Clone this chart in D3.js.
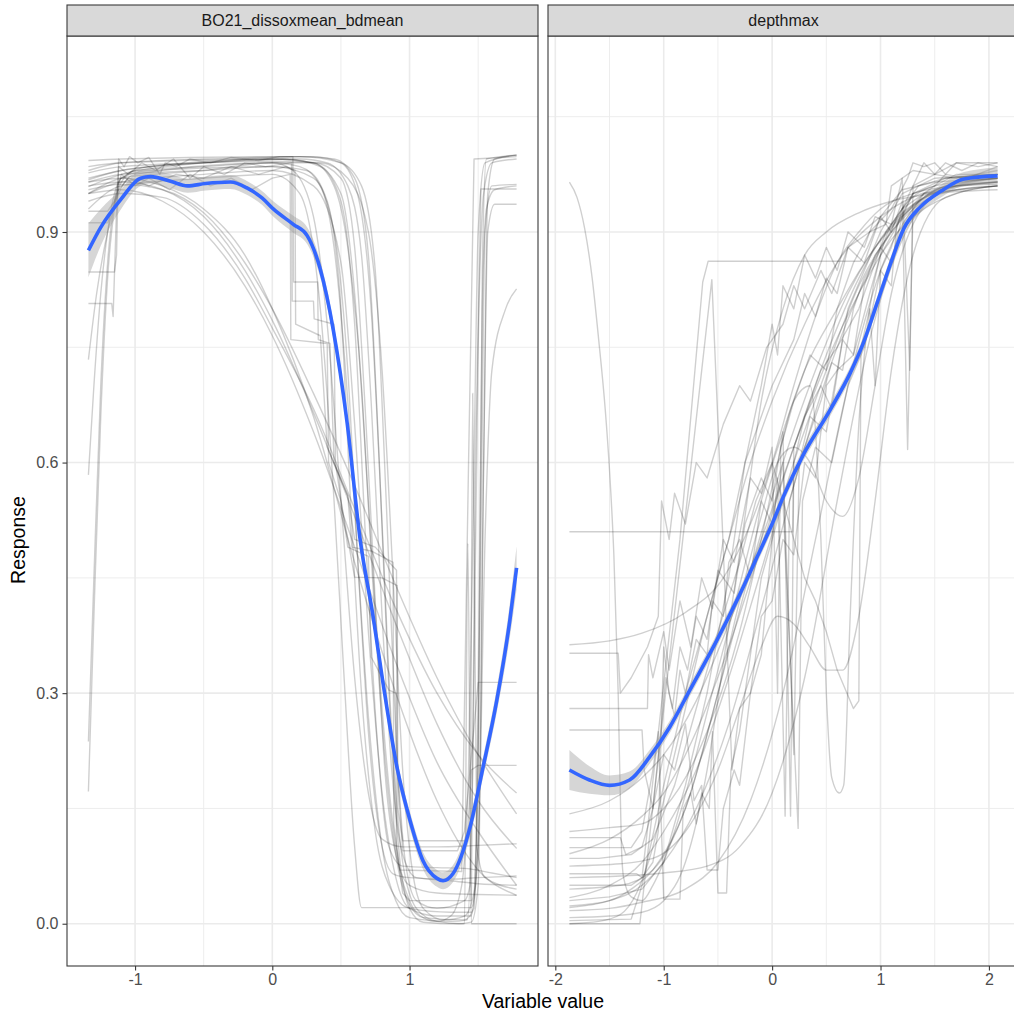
<!DOCTYPE html>
<html>
<head>
<meta charset="utf-8">
<script src="https://cdn.jsdelivr.net/npm/d3@7"></script>
<style>
  body { margin: 0; background: #ffffff; }
  svg text { font-family: "Liberation Sans", Arial, Helvetica, sans-serif; }
</style>
</head>
<body>
<svg id="chart" width="1014" height="1018"></svg>
<script>
// ---------------------------------------------------------------
// Response curves of the individual model runs, per predictor.
// Each run is a list of [variable value, response] pairs.
// ---------------------------------------------------------------
const panelNames = ["BO21_dissoxmean_bdmean", "depthmax"];
const oxygenTicksX = [-1, 0, 1];
const depthTicksX = [-2, -1, 0, 1, 2];
const responseTicks = [0, 0.3, 0.6, 0.9];
const oxygenRange = [-1.34, 1.78];
const depthRange = [-1.87, 2.08];
const responseRange = [0, 1.1];

// dissolved oxygen: smooth runs
const oxygenSmoothRuns = [
  [[-1.34,0.172],[-1.3,0.4],[-1.25,0.66],[-1.2,0.84],[-1.15,0.93],[-1.1,0.965],[-1.0,0.98],[-0.5,0.985],[0,0.99],[0.2,0.985],[0.35,0.96],[0.45,0.88],[0.55,0.68],[0.62,0.48],[0.7,0.27],[0.8,0.1],[0.9,0.03],[1.0,0.008],[1.3,0.003],[1.42,0.005],[1.46,0.2],[1.5,0.75],[1.54,0.95],[1.6,0.99],[1.78,0.995]],
  [[-1.34,0.237],[-1.3,0.45],[-1.25,0.7],[-1.2,0.86],[-1.15,0.94],[-1.1,0.97],[-0.9,0.985],[0,0.995],[0.3,0.99],[0.45,0.96],[0.55,0.88],[0.65,0.7],[0.72,0.48],[0.8,0.26],[0.9,0.09],[1.0,0.025],[1.1,0.008],[1.4,0.005],[1.47,0.02],[1.5,0.3],[1.53,0.8],[1.56,0.93],[1.62,0.955],[1.78,0.96]],
  [[-1.34,0.584],[-1.3,0.7],[-1.25,0.82],[-1.2,0.9],[-1.15,0.95],[-1.1,0.97],[-0.9,0.98],[0,0.985],[0.25,0.98],[0.4,0.94],[0.5,0.8],[0.57,0.55],[0.65,0.3],[0.75,0.12],[0.85,0.05],[1.0,0.02],[1.3,0.015],[1.45,0.015],[1.5,0.1],[1.55,0.5],[1.6,0.72],[1.7,0.8],[1.78,0.826]],
  [[-1.34,0.734],[-1.28,0.82],[-1.2,0.9],[-1.12,0.95],[-1.0,0.975],[0,0.99],[0.3,0.99],[0.5,0.97],[0.6,0.88],[0.68,0.66],[0.75,0.42],[0.82,0.2],[0.9,0.09],[1.0,0.05],[1.2,0.04],[1.5,0.038],[1.78,0.037]],
  [[-1.34,0.968],[-1.1,0.98],[-0.5,0.99],[0.2,0.995],[0.4,0.99],[0.55,0.96],[0.65,0.87],[0.72,0.68],[0.8,0.4],[0.87,0.2],[0.95,0.09],[1.05,0.06],[1.3,0.056],[1.5,0.052],[1.78,0.05]],
  [[-1.34,0.959],[-1.1,0.975],[-0.5,0.99],[0.2,0.998],[0.45,0.995],[0.6,0.97],[0.7,0.87],[0.78,0.6],[0.85,0.3],[0.92,0.1],[1.0,0.02],[1.1,0.002],[1.35,0.0],[1.45,0.002],[1.5,0.05],[1.54,0.6],[1.57,0.95],[1.62,0.995],[1.78,1.0]],
  [[-1.34,0.95],[-1.1,0.97],[-0.5,0.98],[0,0.99],[0.15,0.98],[0.3,0.92],[0.4,0.78],[0.5,0.55],[0.6,0.32],[0.7,0.17],[0.8,0.11],[0.95,0.1],[1.2,0.1],[1.5,0.102],[1.78,0.104]],
  [[-1.34,0.977],[-1.1,0.985],[-0.5,0.99],[0.1,0.995],[0.35,0.985],[0.5,0.94],[0.6,0.78],[0.68,0.5],[0.76,0.25],[0.85,0.1],[0.95,0.075],[1.2,0.073],[1.4,0.072],[1.6,0.066],[1.78,0.06]],
  [[-1.34,0.993],[-1.1,0.995],[0,0.998],[0.3,0.998],[0.5,0.99],[0.62,0.95],[0.72,0.8],[0.8,0.52],[0.87,0.25],[0.95,0.08],[1.05,0.02],[1.2,0.003],[1.38,0.0],[1.4,0.0],[1.425,0.495],[1.45,0.0],[1.78,0.0]],
  [[-1.34,0.93],[-1.1,0.96],[-0.5,0.97],[0,0.975],[0.2,0.95],[0.35,0.8],[0.45,0.55],[0.52,0.33],[0.6,0.1],[0.65,0.021],[1.0,0.021],[1.45,0.021],[1.5,0.1],[1.54,0.6],[1.57,0.9],[1.62,0.936],[1.78,0.936]],
  [[-1.34,0.98],[-1.1,0.99],[-0.5,0.995],[0.2,0.998],[0.5,0.99],[0.65,0.96],[0.75,0.85],[0.83,0.55],[0.9,0.25],[0.97,0.08],[1.05,0.03],[1.2,0.02],[1.4,0.03],[1.44,0.05],[1.46,0.69],[1.49,0.1],[1.55,0.06],[1.78,0.045]],
  [[-1.34,0.965],[-1.1,0.975],[-0.5,0.98],[0,0.985],[0.3,0.97],[0.45,0.9],[0.55,0.72],[0.63,0.45],[0.7,0.25],[0.78,0.12],[0.88,0.065],[1.0,0.06],[1.3,0.058],[1.5,0.06],[1.78,0.062]],
  [[-1.34,0.985],[-1.1,0.99],[0,0.995],[0.3,0.99],[0.5,0.95],[0.6,0.82],[0.7,0.55],[0.8,0.28],[0.9,0.1],[1.0,0.03],[1.1,0.008],[1.2,0.003],[1.3,0.01],[1.38,0.05],[1.43,0.2],[1.47,0.6],[1.5,0.9],[1.55,0.99],[1.78,1.0]],
  [[-1.34,0.95],[-1.1,0.965],[-0.5,0.975],[0,0.98],[0.3,0.96],[0.5,0.86],[0.6,0.65],[0.7,0.38],[0.8,0.17],[0.9,0.06],[1.0,0.02],[1.2,0.01],[1.45,0.01],[1.5,0.2],[1.53,0.85],[1.56,0.995],[1.78,1.0]],
  [[-1.34,0.97],[-1.1,0.98],[-0.5,0.99],[0,0.992],[0.35,0.99],[0.55,0.97],[0.7,0.9],[0.8,0.72],[0.88,0.45],[0.95,0.2],[1.02,0.07],[1.1,0.02],[1.25,0.005],[1.4,0.01],[1.48,0.05],[1.52,0.5],[1.55,0.9],[1.6,0.96],[1.78,0.962]],
  [[-1.34,0.955],[-1.1,0.962],[-0.8,0.955],[-0.5,0.925],[-0.2,0.86],[0,0.8],[0.3,0.69],[0.6,0.57],[0.9,0.44],[1.2,0.32],[1.5,0.22],[1.78,0.143]],
  [[-1.34,0.96],[-1.1,0.965],[-0.8,0.955],[-0.5,0.92],[-0.2,0.85],[0,0.785],[0.3,0.665],[0.6,0.53],[0.9,0.39],[1.2,0.26],[1.5,0.16],[1.78,0.098]],
  [[-1.34,0.95],[-1.1,0.955],[-0.8,0.94],[-0.5,0.9],[-0.2,0.83],[0,0.765],[0.3,0.64],[0.6,0.49],[0.9,0.34],[1.2,0.21],[1.5,0.12],[1.78,0.05]],
  [[-1.34,0.965],[-1.1,0.97],[-0.8,0.96],[-0.5,0.93],[-0.2,0.87],[0,0.8],[0.3,0.66],[0.6,0.47],[0.9,0.3],[1.2,0.16],[1.5,0.07],[1.78,0.037]],
  [[-1.34,0.94],[-1.1,0.95],[-0.8,0.945],[-0.5,0.91],[-0.2,0.84],[0,0.775],[0.3,0.67],[0.6,0.54],[0.9,0.41],[1.2,0.3],[1.5,0.22],[1.78,0.17]]
];

// dissolved oxygen: stepped runs
const oxygenStepRuns = [
  [[-1.34,0.848],[-1.15,0.848],[-1.135,0.87],[-1.12,0.995],[-1.08,0.985],[-1.04,0.998],[-0.98,0.99],[-0.9,0.997],[-0.82,0.975],[-0.78,0.99],[-0.7,0.985],[-0.6,0.995],[-0.45,0.99],[-0.3,0.997],[-0.1,0.993],[0.05,0.998],[0.15,0.998],[0.155,0.835],[0.33,0.835],[0.335,0.76],[0.42,0.755],[0.45,0.6],[0.55,0.557],[0.58,0.49],[0.72,0.485],[0.88,0.47],[0.885,0.13],[0.93,0.07],[1.38,0.068],[1.43,0.6],[1.47,0.995],[1.78,0.998]],
  [[-1.34,0.807],[-1.17,0.807],[-1.16,0.79],[-1.135,0.93],[-1.12,0.985],[-1.05,0.975],[-0.95,0.99],[-0.85,0.98],[-0.72,0.995],[-0.6,0.97],[-0.5,0.985],[-0.35,0.975],[-0.2,0.99],[-0.05,0.985],[0.14,0.99],[0.145,0.81],[0.3,0.81],[0.305,0.787],[0.45,0.78],[0.46,0.6],[0.55,0.49],[0.7,0.478],[0.72,0.347],[0.85,0.304],[0.9,0.3],[0.905,0.1],[0.95,0.04],[1.0,0.03],[1.45,0.03],[1.48,0.6],[1.52,0.956],[1.78,0.956]],
  [[-1.34,0.927],[-1.2,0.927],[-1.15,0.94],[-1.1,0.975],[-1.0,0.96],[-0.9,0.97],[-0.75,0.955],[-0.6,0.975],[-0.45,0.96],[-0.3,0.97],[-0.15,0.955],[0.0,0.97],[0.13,0.975],[0.135,0.76],[0.4,0.755],[0.41,0.6],[0.5,0.55],[0.6,0.451],[0.8,0.45],[0.91,0.44],[0.915,0.15],[0.95,0.108],[1.42,0.108],[1.45,0.2],[1.5,0.206],[1.78,0.206]],
  [[-1.34,0.912],[-1.2,0.912],[-1.12,0.955],[-1.05,0.97],[-0.9,0.96],[-0.7,0.975],[-0.5,0.97],[-0.3,0.985],[-0.1,0.975],[0.1,0.985],[0.165,0.98],[0.17,0.78],[0.35,0.765],[0.4,0.62],[0.55,0.557],[0.6,0.5],[0.75,0.49],[0.905,0.46],[0.91,0.2],[0.95,0.095],[1.35,0.095],[1.4,0.12],[1.5,0.314],[1.78,0.314]]
];

// depth: smooth runs
const depthSmoothRuns = [
  [[-1.87,0.363],[-1.5,0.368],[-1.2,0.378],[-0.8,0.405],[-0.45,0.45],[-0.2,0.52],[0,0.6],[0.2,0.7],[0.4,0.79],[0.6,0.86],[0.8,0.9],[1.0,0.93],[1.3,0.95],[1.7,0.96],[2.08,0.962]],
  [[-1.87,0.0],[-1.6,0.003],[-1.4,0.012],[-1.25,0.04],[-1.1,0.1],[-1.0,0.16],[-0.8,0.28],[-0.6,0.4],[-0.4,0.5],[-0.2,0.6],[0,0.68],[0.3,0.78],[0.6,0.86],[1.0,0.92],[1.5,0.955],[2.08,0.965]],
  [[-1.87,0.143],[-1.5,0.16],[-1.2,0.19],[-1.0,0.22],[-0.7,0.29],[-0.4,0.39],[-0.1,0.5],[0.2,0.62],[0.5,0.73],[0.8,0.82],[1.1,0.89],[1.4,0.93],[1.7,0.95],[2.08,0.96]],
  [[-1.87,0.091],[-1.5,0.11],[-1.2,0.14],[-1.0,0.17],[-0.7,0.25],[-0.4,0.36],[-0.1,0.49],[0.2,0.62],[0.5,0.74],[0.8,0.84],[1.1,0.91],[1.4,0.945],[1.7,0.96],[2.08,0.965]],
  [[-1.87,0.034],[-1.5,0.05],[-1.2,0.08],[-1.0,0.12],[-0.7,0.2],[-0.4,0.32],[-0.1,0.46],[0.2,0.6],[0.5,0.72],[0.8,0.83],[1.1,0.9],[1.4,0.94],[1.7,0.955],[2.08,0.96]],
  [[-1.87,0.021],[-1.5,0.03],[-1.2,0.05],[-1.0,0.08],[-0.7,0.15],[-0.4,0.26],[-0.1,0.41],[0.2,0.57],[0.5,0.71],[0.8,0.82],[1.1,0.9],[1.4,0.945],[1.7,0.965],[2.08,0.975]],
  [[-1.87,0.017],[-1.5,0.02],[-1.2,0.028],[-0.8,0.045],[-0.5,0.08],[-0.2,0.16],[0.1,0.3],[0.4,0.5],[0.7,0.7],[1.0,0.85],[1.3,0.93],[1.6,0.96],[2.08,0.97]],
  [[-1.87,0.023],[-1.5,0.03],[-1.3,0.045],[-1.1,0.07],[-0.8,0.15],[-0.5,0.3],[-0.2,0.46],[0.1,0.6],[0.4,0.72],[0.7,0.82],[1.0,0.89],[1.3,0.935],[1.7,0.96],[2.08,0.97]],
  [[-1.87,0.06],[-1.4,0.062],[-1.0,0.066],[-0.6,0.075],[-0.3,0.1],[0,0.17],[0.3,0.32],[0.6,0.55],[0.9,0.76],[1.2,0.89],[1.5,0.95],[1.8,0.965],[2.08,0.97]],
  [[-1.87,0.045],[-1.4,0.05],[-1.1,0.07],[-0.8,0.15],[-0.5,0.3],[-0.3,0.42],[-0.1,0.53],[0.05,0.6],[0.2,0.62],[0.35,0.6],[0.5,0.55],[0.65,0.53],[0.8,0.58],[0.95,0.7],[1.1,0.82],[1.3,0.91],[1.6,0.955],[2.08,0.965]],
  [[-1.87,0.075],[-1.4,0.078],[-1.1,0.085],[-0.8,0.12],[-0.5,0.2],[-0.3,0.28],[-0.1,0.36],[0.05,0.4],[0.2,0.39],[0.35,0.36],[0.5,0.33],[0.65,0.33],[0.8,0.4],[0.95,0.55],[1.1,0.72],[1.3,0.87],[1.6,0.945],[2.08,0.96]],
  [[-1.87,0.008],[-1.5,0.01],[-1.2,0.015],[-1.0,0.03],[-0.8,0.08],[-0.6,0.2],[-0.45,0.34],[-0.27,0.51],[-0.1,0.68],[0.1,0.8],[0.3,0.87],[0.5,0.9],[0.8,0.925],[1.1,0.94],[1.5,0.95],[2.08,0.955]],
  [[-1.87,0.965],[-1.8,0.945],[-1.73,0.905],[-1.66,0.84],[-1.6,0.76],[-1.54,0.67],[-1.5,0.59],[-1.46,0.48],[-1.42,0.3],[-1.39,0.1],[-1.37,0.06],[-1.3,0.035],[-1.2,0.03],[-1.1,0.05],[-0.9,0.12],[-0.7,0.22],[-0.5,0.33],[-0.3,0.44],[-0.1,0.55],[0.1,0.64],[0.3,0.72],[0.6,0.8],[0.9,0.87],[1.2,0.92],[1.5,0.95],[2.08,0.96]],
  [[-1.87,0.12],[-1.5,0.125],[-1.2,0.13],[-1.0,0.15],[-0.6,0.25],[-0.3,0.38],[-0.1,0.5],[0.05,0.6],[0.2,0.68],[0.35,0.7],[0.45,0.5],[0.5,0.3],[0.55,0.19],[0.62,0.17],[0.66,0.18],[0.72,0.4],[0.8,0.65],[0.9,0.8],[1.0,0.87],[1.2,0.93],[1.5,0.96],[2.08,0.97]]
];

// depth: stepped runs
const depthStepRuns = [
  [[-1.87,0.51],[0.19,0.51],[0.2,0.62],[0.3,0.66],[0.45,0.72],[0.6,0.75],[0.8,0.8],[0.95,0.86],[1.05,0.9],[1.2,0.93],[1.35,0.96],[1.6,0.97],[2.08,0.975]],
  [[-1.87,0.352],[-1.42,0.352],[-1.4,0.3],[-1.3,0.32],[-1.15,0.36],[-1.05,0.4],[-1.02,0.55],[-0.95,0.5],[-0.9,0.56],[-0.8,0.52],[-0.7,0.6],[-0.6,0.58],[-0.45,0.65],[-0.3,0.7],[-0.2,0.68],[-0.05,0.75],[0.1,0.78],[0.2,0.83],[0.3,0.8],[0.45,0.85],[0.55,0.82],[0.7,0.88],[0.9,0.9],[1.1,0.93],[1.25,0.97],[1.3,0.99],[1.4,0.985],[1.5,0.99],[1.6,0.975],[1.7,0.99],[1.9,0.985],[2.08,0.99]],
  [[-1.87,0.28],[-1.15,0.28],[-1.14,0.35],[-1.1,0.32],[-1.0,0.38],[-0.95,0.33],[-0.85,0.42],[-0.75,0.36],[-0.65,0.45],[-0.55,0.41],[-0.45,0.5],[-0.35,0.47],[-0.2,0.58],[-0.1,0.56],[0.0,0.62],[0.05,0.3],[0.08,0.62],[0.2,0.68],[0.35,0.74],[0.5,0.72],[0.6,0.8],[0.75,0.86],[0.9,0.9],[1.05,0.91],[1.1,0.96],[1.3,0.98],[1.5,0.975],[1.7,0.99],[2.08,0.99]],
  [[-1.87,0.252],[-1.2,0.252],[-1.18,0.2],[-1.1,0.15],[-1.05,0.22],[-0.98,0.32],[-0.92,0.28],[-0.85,0.36],[-0.78,0.33],[-0.7,0.4],[-0.6,0.37],[-0.5,0.46],[-0.35,0.43],[-0.25,0.52],[-0.1,0.58],[0.0,0.55],[0.1,0.64],[0.17,0.14],[0.2,0.6],[0.3,0.66],[0.45,0.7],[0.55,0.67],[0.65,0.76],[0.75,0.74],[0.85,0.83],[0.95,0.87],[1.05,0.89],[1.2,0.93],[1.4,0.95],[1.7,0.96],[2.08,0.965]],
  [[-1.87,0.112],[-1.4,0.112],[-1.35,0.09],[-1.2,0.1],[-1.1,0.15],[-1.0,0.22],[-0.9,0.2],[-0.8,0.26],[-0.72,0.16],[-0.65,0.18],[-0.6,0.07],[-0.5,0.07],[-0.45,0.15],[-0.35,0.2],[-0.3,0.18],[-0.2,0.3],[-0.1,0.35],[0.0,0.5],[0.1,0.55],[0.24,0.124],[0.28,0.55],[0.4,0.62],[0.55,0.6],[0.7,0.7],[0.85,0.75],[1.0,0.85],[1.1,0.88],[1.2,0.93],[1.3,0.96],[1.5,0.975],[1.7,0.97],[2.08,0.98]],
  [[-1.87,0.099],[-1.3,0.099],[-1.2,0.12],[-1.1,0.2],[-1.05,0.25],[-1.0,0.032],[-0.85,0.032],[-0.82,0.15],[-0.75,0.17],[-0.7,0.13],[-0.65,0.17],[-0.58,0.15],[-0.55,0.25],[-0.5,0.04],[-0.42,0.04],[-0.38,0.2],[-0.3,0.25],[-0.2,0.35],[-0.1,0.45],[0.0,0.5],[0.05,0.58],[0.12,0.14],[0.16,0.55],[0.3,0.62],[0.45,0.68],[0.55,0.73],[0.65,0.72],[0.75,0.8],[0.85,0.84],[1.0,0.88],[1.1,0.86],[1.2,0.92],[1.3,0.95],[1.5,0.96],[1.7,0.975],[2.08,0.975]],
  [[-1.87,0.004],[-1.3,0.006],[-1.2,0.05],[-1.0,0.18],[-0.8,0.3],[-0.6,0.4],[-0.4,0.5],[-0.25,0.6],[-0.1,0.66],[0.0,0.7],[0.2,0.76],[0.3,0.82],[0.4,0.79],[0.5,0.84],[0.6,0.82],[0.7,0.88],[0.85,0.86],[1.0,0.92],[1.1,0.9],[1.2,0.94],[1.25,0.617],[1.3,0.93],[1.4,0.95],[1.5,0.96],[1.6,0.975],[1.8,0.97],[2.08,0.985]],
  [[-1.87,0.03],[-1.5,0.035],[-1.2,0.045],[-1.0,0.08],[-0.8,0.18],[-0.6,0.3],[-0.4,0.45],[-0.25,0.6],[-0.1,0.7],[0.0,0.78],[0.05,0.74],[0.1,0.83],[0.2,0.8],[0.3,0.87],[0.4,0.84],[0.5,0.88],[0.6,0.85],[0.7,0.9],[0.85,0.88],[0.95,0.92],[1.1,0.91],[1.2,0.97],[1.27,0.72],[1.3,0.96],[1.4,0.99],[1.5,0.975],[1.6,0.99],[1.75,0.98],[1.9,0.99],[2.08,0.985]],
  [[-1.87,0.085],[-1.6,0.085],[-1.3,0.09],[-1.1,0.11],[-0.9,0.18],[-0.7,0.28],[-0.5,0.38],[-0.3,0.47],[-0.15,0.55],[0.0,0.6],[0.1,0.55],[0.2,0.5],[0.3,0.45],[0.4,0.42],[0.5,0.38],[0.6,0.33],[0.75,0.28],[0.8,0.29],[0.82,0.75],[0.9,0.8],[0.95,0.7],[1.0,0.85],[1.1,0.83],[1.15,0.91],[1.3,0.95],[1.6,0.97],[2.08,0.975]],
  [[-1.87,0.05],[-1.3,0.05],[-1.2,0.06],[-1.1,0.08],[-1.05,0.12],[-1.0,0.36],[-0.95,0.3],[-0.9,0.27],[-0.85,0.33],[-0.8,0.3],[-0.7,0.37],[-0.6,0.35],[-0.55,0.42],[-0.45,0.4],[-0.4,0.47],[-0.3,0.5],[-0.2,0.45],[-0.1,0.55],[0.0,0.52],[0.1,0.6],[0.2,0.22],[0.25,0.6],[0.35,0.66],[0.5,0.64],[0.6,0.72],[0.75,0.74],[0.9,0.82],[1.0,0.87],[1.2,0.92],[1.4,0.95],[2.08,0.96]],
  [[-1.87,0.0],[-1.3,0.0],[-1.22,0.0],[-0.824,0.5],[-0.556,0.838],[-0.454,0.5],[-0.37,0.2],[-0.3,0.28],[-0.2,0.3],[-0.1,0.4],[0.0,0.42],[0.1,0.5],[0.2,0.48],[0.3,0.6],[0.4,0.58],[0.5,0.7],[0.6,0.72],[0.7,0.8],[0.85,0.85],[1.0,0.9],[1.2,0.95],[1.5,0.97],[2.08,0.975]],
  [[-1.87,0.065],[-1.25,0.065],[-1.2,0.06],[-0.85,0.5],[-0.64,0.835],[-0.59,0.862],[0.815,0.862],[0.88,0.88],[1.0,0.92],[1.2,0.955],[1.5,0.965],[2.08,0.97]]
];

// smoothed mean response with its standard-error half width
const oxygenTrendX  = [-1.34,-1.25,-1.105,-0.96,-0.887,-0.742,-0.618,-0.487,-0.305,-0.182,-0.073,0.007,0.153,0.255,0.349,0.444,0.545,0.64,0.735,0.807,0.909,1.004,1.098,1.2,1.244,1.316,1.44,1.535,1.636,1.731,1.78];
const oxygenTrendY  = [0.876,0.906,0.942,0.97,0.972,0.966,0.96,0.963,0.965,0.957,0.944,0.93,0.91,0.895,0.852,0.773,0.652,0.5,0.399,0.313,0.203,0.134,0.082,0.059,0.056,0.065,0.125,0.203,0.291,0.395,0.463];
const oxygenTrendSe = [0.035,0.024,0.013,0.01,0.009,0.009,0.009,0.009,0.009,0.009,0.009,0.01,0.011,0.011,0.011,0.011,0.011,0.011,0.011,0.011,0.011,0.011,0.011,0.011,0.011,0.011,0.012,0.013,0.016,0.022,0.028];

const depthTrendX  = [-1.87,-1.685,-1.5,-1.315,-1.13,-0.944,-0.759,-0.509,-0.324,-0.139,0,0.102,0.287,0.537,0.722,0.843,0.972,1.093,1.213,1.37,1.556,1.769,2.08];
const depthTrendY  = [0.2,0.187,0.18,0.187,0.217,0.256,0.304,0.369,0.421,0.477,0.52,0.555,0.61,0.669,0.717,0.756,0.809,0.859,0.904,0.933,0.953,0.969,0.973];
const depthTrendSe = [0.026,0.018,0.013,0.011,0.009,0.008,0.008,0.008,0.008,0.008,0.008,0.008,0.008,0.008,0.008,0.008,0.008,0.008,0.008,0.008,0.008,0.009,0.011];

// ---------------------------------------------------------------
// Layout
// ---------------------------------------------------------------
const svg = d3.select("#chart");
const stripTop = 5, panelTop = 36, panelBottom = 966;
const panelLefts = [67, 548], panelWidth = 471;
const gridColour = "#ebebeb", borderColour = "#3a3a3a";
const fontFamily = '"Liberation Sans", Arial, Helvetica, sans-serif';

const expand = ([a, b]) => { const s = (b - a) * 0.05; return [a - s, b + s]; };

// minor breaks sit half-way between major breaks (including the ones just outside)
function minorBreaks(major, domain) {
  const step = major[1] - major[0];
  const ext = [major[0] - step, ...major, major[major.length - 1] + step];
  const out = [];
  for (let i = 0; i < ext.length - 1; i++) {
    const m = (ext[i] + ext[i + 1]) / 2;
    if (m >= domain[0] && m <= domain[1]) out.push(m);
  }
  return out;
}

const yScale = d3.scaleLinear().domain(expand(responseRange)).range([panelBottom, panelTop]);

const panels = [
  { name: panelNames[0], range: oxygenRange, ticks: oxygenTicksX, smooth: oxygenSmoothRuns, step: oxygenStepRuns,
    trend: oxygenTrendX.map((x, i) => ({ x, y: oxygenTrendY[i], se: oxygenTrendSe[i] })) },
  { name: panelNames[1], range: depthRange, ticks: depthTicksX, smooth: depthSmoothRuns, step: depthStepRuns,
    trend: depthTrendX.map((x, i) => ({ x, y: depthTrendY[i], se: depthTrendSe[i] })) }
];

const defs = svg.append("defs");

panels.forEach((p, idx) => {
  const left = panelLefts[idx];
  const xDomain = expand(p.range);
  const xScale = d3.scaleLinear().domain(xDomain).range([left, left + panelWidth]);
  const clipId = "clip" + idx;
  defs.append("clipPath").attr("id", clipId)
    .append("rect").attr("x", left).attr("y", panelTop)
    .attr("width", panelWidth).attr("height", panelBottom - panelTop);

  const g = svg.append("g");
  const inner = g.append("g").attr("clip-path", `url(#${clipId})`);

  // grid lines
  const yMinor = minorBreaks(responseTicks, yScale.domain());
  const xMinor = minorBreaks(p.ticks, xDomain);
  inner.selectAll(".ymin").data(yMinor).join("line")
    .attr("x1", left).attr("x2", left + panelWidth)
    .attr("y1", d => yScale(d)).attr("y2", d => yScale(d))
    .attr("stroke", gridColour).attr("stroke-width", 0.9);
  inner.selectAll(".xmin").data(xMinor).join("line")
    .attr("y1", panelTop).attr("y2", panelBottom)
    .attr("x1", d => xScale(d)).attr("x2", d => xScale(d))
    .attr("stroke", gridColour).attr("stroke-width", 0.9);
  inner.selectAll(".ymaj").data(responseTicks).join("line")
    .attr("x1", left).attr("x2", left + panelWidth)
    .attr("y1", d => yScale(d)).attr("y2", d => yScale(d))
    .attr("stroke", gridColour).attr("stroke-width", 1.6);
  inner.selectAll(".xmaj").data(p.ticks).join("line")
    .attr("y1", panelTop).attr("y2", panelBottom)
    .attr("x1", d => xScale(d)).attr("x2", d => xScale(d))
    .attr("stroke", gridColour).attr("stroke-width", 1.6);

  // individual runs
  const smoothLine = d3.line().x(d => xScale(d[0])).y(d => yScale(d[1])).curve(d3.curveMonotoneX);
  const stepLine = d3.line().x(d => xScale(d[0])).y(d => yScale(d[1]));
  inner.selectAll(".run-s").data(p.smooth).join("path")
    .attr("d", smoothLine).attr("fill", "none")
    .attr("stroke", "#000").attr("stroke-opacity", 0.19).attr("stroke-width", 1.4);
  inner.selectAll(".run-j").data(p.step).join("path")
    .attr("d", stepLine).attr("fill", "none")
    .attr("stroke", "#000").attr("stroke-opacity", 0.19).attr("stroke-width", 1.4)
    .attr("stroke-linejoin", "round");

  // confidence band and mean trend
  const band = d3.area().x(d => xScale(d.x))
    .y0(d => yScale(d.y - d.se)).y1(d => yScale(d.y + d.se)).curve(d3.curveMonotoneX);
  inner.append("path").datum(p.trend).attr("d", band)
    .attr("fill", "#999999").attr("fill-opacity", 0.4);
  const trendLine = d3.line().x(d => xScale(d.x)).y(d => yScale(d.y)).curve(d3.curveMonotoneX);
  inner.append("path").datum(p.trend).attr("d", trendLine)
    .attr("fill", "none").attr("stroke", "#3366FF").attr("stroke-width", 3.6);

  // panel border
  g.append("rect").attr("x", left).attr("y", panelTop)
    .attr("width", panelWidth).attr("height", panelBottom - panelTop)
    .attr("fill", "none").attr("stroke", borderColour).attr("stroke-width", 1.1);

  // facet strip
  g.append("rect").attr("x", left).attr("y", stripTop)
    .attr("width", panelWidth).attr("height", panelTop - stripTop)
    .attr("fill", "#d9d9d9").attr("stroke", borderColour).attr("stroke-width", 1.1);
  g.append("text").attr("x", left + panelWidth / 2).attr("y", (stripTop + panelTop) / 2)
    .attr("dy", "0.35em").attr("text-anchor", "middle")
    .attr("font-size", "16px").attr("fill", "#1a1a1a").text(p.name);

  // bottom axis
  const xAxis = g.append("g").attr("transform", `translate(0,${panelBottom})`)
    .call(d3.axisBottom(xScale).tickValues(p.ticks).tickFormat(d => String(d)).tickSize(4.5).tickPadding(3));
  xAxis.select(".domain").remove();
  xAxis.selectAll(".tick line").attr("stroke", borderColour).attr("stroke-width", 1.1);
  xAxis.selectAll(".tick text").attr("fill", "#4d4d4d").attr("font-size", "16px")
    .attr("font-family", fontFamily);

  // left axis only on the first panel
  if (idx === 0) {
    const yAxis = g.append("g").attr("transform", `translate(${left},0)`)
      .call(d3.axisLeft(yScale).tickValues(responseTicks).tickFormat(d3.format(".1f")).tickSize(4.5).tickPadding(4));
    yAxis.select(".domain").remove();
    yAxis.selectAll(".tick line").attr("stroke", borderColour).attr("stroke-width", 1.1);
    yAxis.selectAll(".tick text").attr("fill", "#4d4d4d").attr("font-size", "16px")
      .attr("font-family", fontFamily);
  }
});

// axis titles
svg.append("text")
  .attr("x", (panelLefts[0] + panelLefts[1] + panelWidth) / 2).attr("y", 1008)
  .attr("text-anchor", "middle").attr("font-size", "19.5px").attr("fill", "#000")
  .text("Variable value");
svg.append("text")
  .attr("transform", "translate(25,540) rotate(-90)")
  .attr("text-anchor", "middle").attr("font-size", "19.5px").attr("fill", "#000")
  .text("Response");
</script>
</body>
</html>
